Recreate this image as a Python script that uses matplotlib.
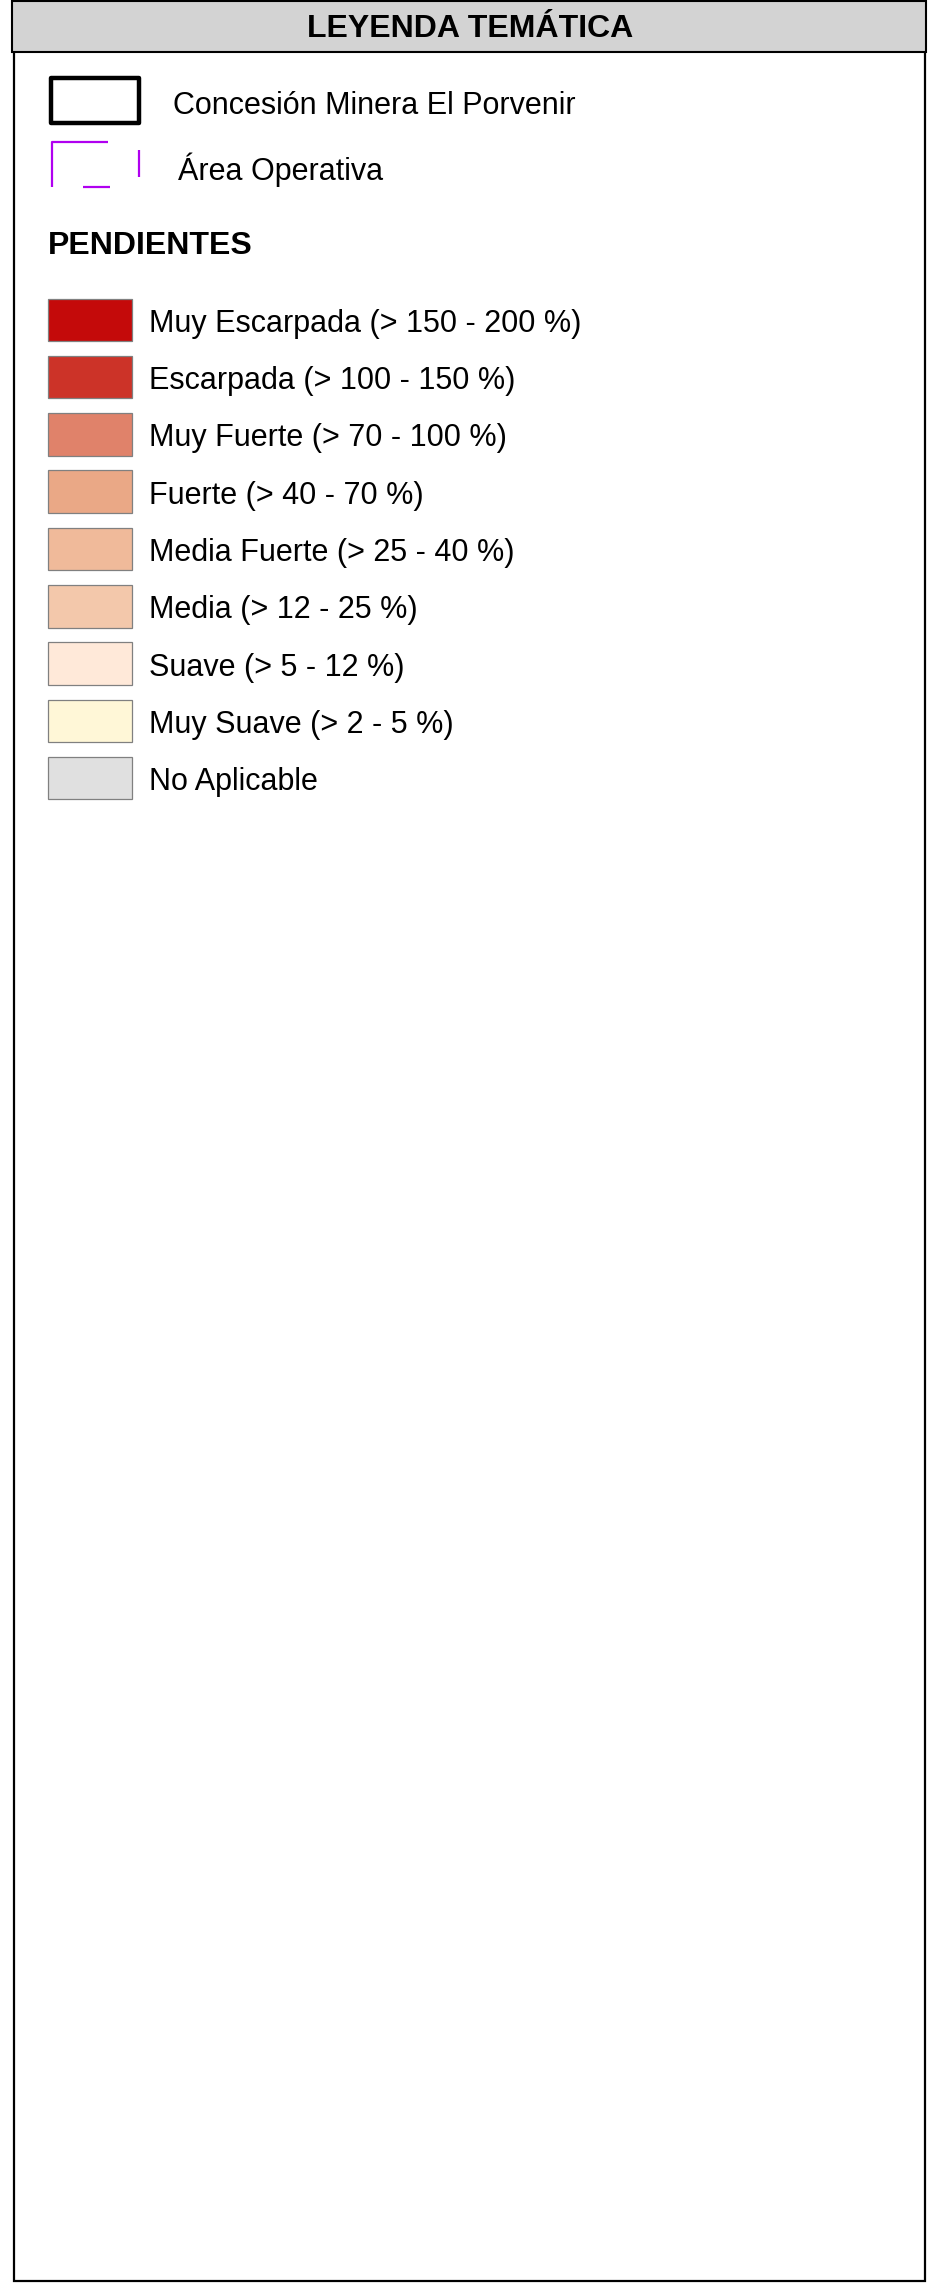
import matplotlib
matplotlib.use("Agg")
import matplotlib.pyplot as plt
from matplotlib.patches import Rectangle

plt.rcParams['font.family'] = ['Liberation Sans', 'DejaVu Sans']

# legend content
title = "LEYENDA TEMÁTICA"
section_title = "PENDIENTES"
boundary_labels = ["Concesión Minera El Porvenir", "Área Operativa"]
slope_labels = [
    "Muy Escarpada (> 150 - 200 %)",
    "Escarpada (> 100 - 150 %)",
    "Muy Fuerte (> 70 - 100 %)",
    "Fuerte (> 40 - 70 %)",
    "Media Fuerte (> 25 - 40 %)",
    "Media (> 12 - 25 %)",
    "Suave (> 5 - 12 %)",
    "Muy Suave (> 2 - 5 %)",
    "No Aplicable",
]
slope_colors = [
    "#c40a0a", "#cc3328", "#e0826a", "#eaa886", "#f0ba9a",
    "#f3c8ab", "#ffe9d9", "#fff7d7", "#e0e0e0",
]

W, H = 929, 2283
fig = plt.figure(figsize=(W / 100, H / 100), dpi=100)
ax = fig.add_axes([0, 0, 1, 1])
ax.set_xlim(0, W)
ax.set_ylim(H, 0)
ax.axis('off')

# outer frame and header band
ax.add_patch(Rectangle((14.5, 51), 910.5, 2230, fill=False, ec='black', lw=1.6))
ax.add_patch(Rectangle((12, 1), 914, 51, fc='#d3d3d3', ec='black', lw=1.5))
ax.text(470, 37, title, fontsize=23, fontweight='bold', ha='center', va='baseline')

# concession boundary symbol
ax.add_patch(Rectangle((51, 78), 88, 45, fill=False, ec='black', lw=3.2,
                       joinstyle='round'))
ax.text(173, 114, boundary_labels[0], fontsize=22, va='baseline')

# operative area symbol (broken purple outline)
purple = '#b000f0'
ax.plot([52, 52, 108], [187, 142, 142], color=purple, lw=1.6, solid_capstyle='butt')
ax.plot([139, 139], [150, 177], color=purple, lw=1.6, solid_capstyle='butt')
ax.plot([83, 110], [187, 187], color=purple, lw=1.6, solid_capstyle='butt')
ax.text(178, 180, boundary_labels[1], fontsize=22, va='baseline')

# slope classes
ax.text(48, 254, section_title, fontsize=23, fontweight='bold', va='baseline')
top0, step = 298.5, 57.3
for i, (lab, col) in enumerate(zip(slope_labels, slope_colors)):
    y = top0 + i * step
    ax.add_patch(Rectangle((48, y), 84.5, 42.5, fc=col, ec='#808080', lw=0.9))
    ax.text(149, y + 21.25 + 12, lab, fontsize=22, va='baseline')

fig.savefig("out.png", dpi=100)
